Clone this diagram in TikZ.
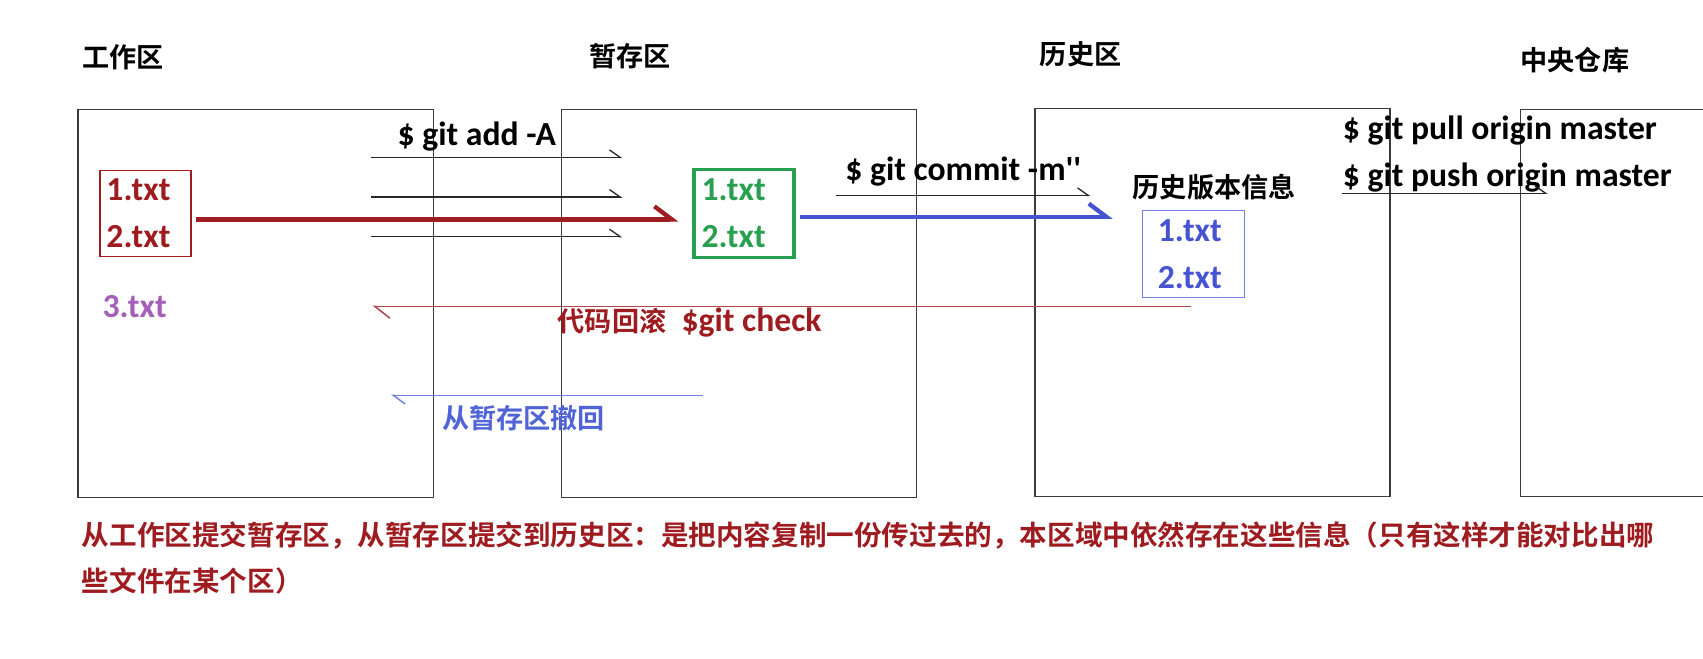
\documentclass[tikz,border=0pt]{standalone}
\usepackage{fontspec}
\setmainfont{Carlito}
\newfontfamily\cjk{Noto Sans CJK SC}[BoldFont={Noto Sans CJK SC Bold}]
\usetikzlibrary{arrows.meta}
\definecolor{darkred}{RGB}{158,27,32}
\definecolor{rollred}{RGB}{175,70,75}
\definecolor{fileblue}{RGB}{70,84,210}
\definecolor{boxblue}{RGB}{115,130,225}
\definecolor{undoblue}{RGB}{80,100,215}
\definecolor{filegreen}{RGB}{40,160,80}
\definecolor{filepurple}{RGB}{165,95,185}
\definecolor{linegray}{RGB}{60,60,60}
\newcommand{\zh}[1]{{\cjk\bfseries\fontsize{12.5}{15}\selectfont #1}}

\begin{document}
\begin{tikzpicture}[x=0.5pt,y=-0.5pt,
    area/.style={draw=linegray,line width=0.7pt},
    title/.style={inner sep=0pt,font=\cjk\bfseries\fontsize{12.5}{15}\selectfont},
    cmd/.style={inner sep=0pt,font=\bfseries\fontsize{15.5}{18}\selectfont},
    files/.style={inner ysep=0pt,align=left,font=\bfseries\fontsize{15.5}{21.5}\selectfont},
    thinline/.style={draw=black!85,line width=0.6pt,-{Straight Barb[left,length=5pt,width=7pt]}},
    fat/.style={line width=2pt,-{Straight Barb[left,length=8pt,width=12pt]}}]
    \useasboundingbox (0,0) rectangle (1568,606);

    % the four areas
    \draw[area] (72,101) rectangle (399,458);
    \draw[area] (517,101) rectangle (844,458);
    \draw[area] (953,100) rectangle (1280,457);
    \draw[area] (1570,101) -- (1400,101) -- (1400,457) -- (1570,457);
    \node[title] (twork) at (113,53) {工作区};
    \node[title] (tstage) at (580,52) {暂存区};
    \node[title] (thist) at (995,50) {历史区};
    \node[title] (tremote) at (1450,55) {中央仓库};

    % files in each area
    \node[files,draw=darkred,text=darkred,line width=0.7pt,inner xsep=3pt,text width=36pt,minimum height=39.5pt] (wfiles) at (134,196.5) {1.txt\\2.txt};
    \node[files,text=filepurple] (wnew) at (124,282) {3.txt};
    \node[files,draw=filegreen,text=filegreen,line width=1.5pt,inner xsep=3.5pt,text width=39pt,minimum height=40.5pt] (sfiles) at (685,196.5) {1.txt\\2.txt};
    \node[title] (hinfo) at (1118,172) {历史版本信息};
    \node[files,draw=boxblue,text=fileblue,line width=0.7pt,inner xsep=7pt,text width=33pt,minimum height=40pt] (hfiles) at (1099,234) {1.txt\\2.txt};

    % git add
    \node[cmd] (addlbl) at (439,126) {\$ git add -A};
    \foreach \y [count=\i] in {145,181.5,218}{
        \coordinate (add\i) at (342,\y);
        \draw[thinline] (add\i) -- ++(231,0);
    }
    \draw[fat,darkred] ([shift={(4,5.5)}]wfiles.east) -- ([shift={(-13,5.5)}]sfiles.west);

    % git commit
    \node[cmd] (commitlbl) at (887,158) {\$ git commit -m\textquotesingle\textquotesingle};
    \coordinate (commit1) at (770,180);
    \draw[thinline] (commit1) -- ++(234,0);
    \draw[fat,fileblue] ([shift={(4,3)}]sfiles.east) -- ++(288,0);

    % pull / push
    \node[cmd,anchor=west] (pull) at (1236,120) {\$ git pull origin master};
    \node[cmd,anchor=west] (push) at (1236,163) {\$ git push origin master};
    \coordinate (push1) at (1236,178);
    \draw[thinline] (push1) -- ++(189,0);

    % back to the work area
    \coordinate (roll1) at (1097,282);
    \coordinate (roll2) at (343,282);
    \draw[rollred,line width=0.7pt,-{Straight Barb[left,length=7pt,width=11pt]}] (roll1) -- (roll2);
    \node[cmd,text=darkred] (rolllbl) at (635,297) {\zh{代码回滚}\ \ \$git check};
    \coordinate (undo1) at (647,364);
    \coordinate (undo2) at (360,364);
    \draw[boxblue,line width=0.7pt,-{Straight Barb[left,length=5.5pt,width=8pt]}] (undo1) -- (undo2);
    \node[title,text=undoblue] (undolbl) at (482,385) {从暂存区撤回};

    \node[title,text=darkred,anchor=west,align=left,font=\cjk\bfseries\fontsize{12.7}{21}\selectfont] (summary) at (75,514)
        {从工作区提交暂存区，从暂存区提交到历史区：是把内容复制一份传过去的，本区域中依然存在这些信息（只有这样才能对比出哪\\些文件在某个区）};
\end{tikzpicture}
\end{document}
